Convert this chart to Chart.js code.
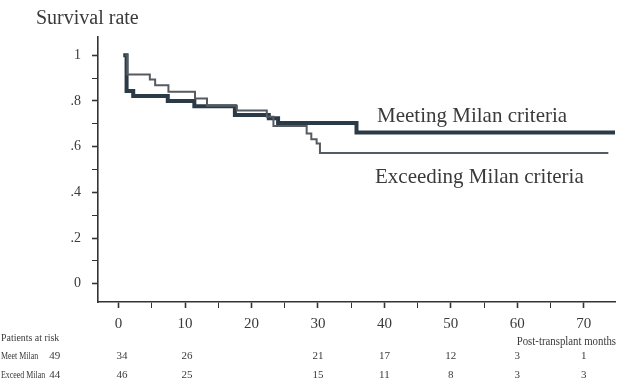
<!DOCTYPE html>
<html><head><meta charset="utf-8">
<script src="https://cdn.jsdelivr.net/npm/chart.js@4/dist/chart.umd.min.js"></script>
<style>html,body{margin:0;padding:0;background:#fff}#wrap{width:618px;height:389px;position:relative}</style>
</head><body><div id="wrap"><canvas id="c" width="618" height="389"></canvas></div>
<script>
// ---- data ----
const meetMonths     = [0.7, 1.2, 2.2, 7.4, 11.4, 17.5, 22.6, 24.0, 35.8, 74.7];
const meetSurvival   = [1.0, 0.844, 0.822, 0.800, 0.777, 0.739, 0.724, 0.704, 0.662, 0.662];
const exceedMonths   = [1.0, 1.3, 4.7, 5.5, 7.5, 11.5, 13.3, 17.8, 22.3, 23.3, 28.3, 29.0, 29.8, 30.3, 73.7];
const exceedSurvival = [1.0, 0.916, 0.894, 0.869, 0.840, 0.811, 0.779, 0.758, 0.731, 0.690, 0.658, 0.632, 0.614, 0.572, 0.572];

const xTickValues = [0, 5, 10, 15, 20, 25, 30, 35, 40, 45, 50, 55, 60, 65, 70];
const xTickLabels = ['0', '', '10', '', '20', '', '30', '', '40', '', '50', '', '60', '', '70'];
const yTickValues = [0, 0.1, 0.2, 0.3, 0.4, 0.5, 0.6, 0.7, 0.8, 0.9, 1.0];
const yTickLabels = ['0', '', '.2', '', '.4', '', '.6', '', '.8', '', '1'];

const riskTitle = 'Patients at risk';
const riskRowLabels = ['Meet Milan', 'Exceed Milan'];
const riskMonths = [-9.6, 0.5, 10.3, 30, 40, 50, 60, 70];
const riskMeet   = [49, 34, 26, 21, 17, 12, 3, 1];
const riskExceed = [44, 46, 25, 15, 11, 8, 3, 3];

const yTitle = 'Survival rate';
const xTitle = 'Post-transplant months';
const seriesNames = ['Meeting Milan criteria', 'Exceeding Milan criteria'];

// ---- chart ----
const SERIF = "'Liberation Serif', 'DejaVu Serif', serif";
const TXT = '#3a3a3a';
const toPts = (xs, ys) => xs.map((x, i) => ({x: x, y: ys[i]}));

function narrowText(ctx, s, x, y, sx) {
  ctx.save();
  ctx.translate(x, y);
  ctx.scale(sx, 1);
  ctx.fillText(s, 0, 0);
  ctx.restore();
}

const annot = {
  id: 'annot',
  afterDraw(chart) {
    const ctx = chart.ctx, xs = chart.scales.x;
    ctx.save();
    ctx.fillStyle = TXT;
    ctx.textBaseline = 'middle';
    // y title
    ctx.font = '20px ' + SERIF;
    ctx.textAlign = 'left';
    ctx.fillText(yTitle, 36, 19);
    // series labels
    ctx.font = '21px ' + SERIF;
    ctx.fillText(seriesNames[0], 377, 116);
    ctx.fillText(seriesNames[1], 375, 177);
    // x title
    ctx.font = '12px ' + SERIF;
    ctx.textAlign = 'right';
    narrowText(ctx, xTitle, 616, 342, 0.9);
    // risk table
    ctx.textAlign = 'left';
    ctx.font = '11px ' + SERIF;
    narrowText(ctx, riskTitle, 1, 338, 0.9);
    narrowText(ctx, riskRowLabels[0], 1, 356, 0.72);
    narrowText(ctx, riskRowLabels[1], 1, 375, 0.72);
    ctx.textAlign = 'center';
    riskMonths.forEach((m, i) => {
      const px = xs.getPixelForValue(m);
      ctx.fillText(String(riskMeet[i]), px, 356);
      ctx.fillText(String(riskExceed[i]), px, 375);
    });
    ctx.restore();
  }
};

new Chart(document.getElementById('c'), {
  type: 'line',
  data: {
    datasets: [
      {
        label: seriesNames[1],
        data: toPts(exceedMonths, exceedSurvival),
        borderColor: '#555b60', borderWidth: 2, stepped: 'before',
        pointRadius: 0, fill: false, order: 1
      },
      {
        label: seriesNames[0],
        data: toPts(meetMonths, meetSurvival),
        borderColor: '#2b3a47', borderWidth: 4, stepped: 'before',
        pointRadius: 0, fill: false, order: 2
      }
    ]
  },
  options: {
    responsive: false, animation: false, devicePixelRatio: 1,
    layout: {padding: {left: 0, right: 3, top: 37, bottom: 0}},
    plugins: {legend: {display: false}, tooltip: {enabled: false}},
    scales: {
      x: {
        type: 'linear', min: -3.1, max: 74.7,
        afterBuildTicks: s => { s.ticks = xTickValues.map(v => ({value: v})); },
        afterFit: s => { s.height = 87; },
        ticks: {
          autoSkip: false, maxRotation: 0, padding: 7, color: TXT,
          font: {family: SERIF, size: 15},
          callback: (v, i) => xTickLabels[i]
        },
        grid: {
          drawOnChartArea: false, drawTicks: true, tickLength: 6, tickColor: '#333',
          tickWidth: c => (c.index % 2 === 0 ? 1.6 : 1)
        },
        border: {display: true, color: '#333', width: 1.6}
      },
      y: {
        type: 'linear', min: -0.08, max: 1.08,
        afterBuildTicks: s => { s.ticks = yTickValues.map(v => ({value: v})); },
        afterFit: s => { s.width = 98; },
        ticks: {
          autoSkip: false, padding: 11, color: TXT,
          font: {family: SERIF, size: 14},
          callback: (v, i) => yTickLabels[i]
        },
        grid: {
          drawOnChartArea: false, drawTicks: true, tickLength: 6, tickColor: '#333',
          tickWidth: c => (c.index % 2 === 0 ? 1.6 : 1)
        },
        border: {display: true, color: '#333', width: 1.6}
      }
    }
  },
  plugins: [annot]
});
</script>
</body></html>
